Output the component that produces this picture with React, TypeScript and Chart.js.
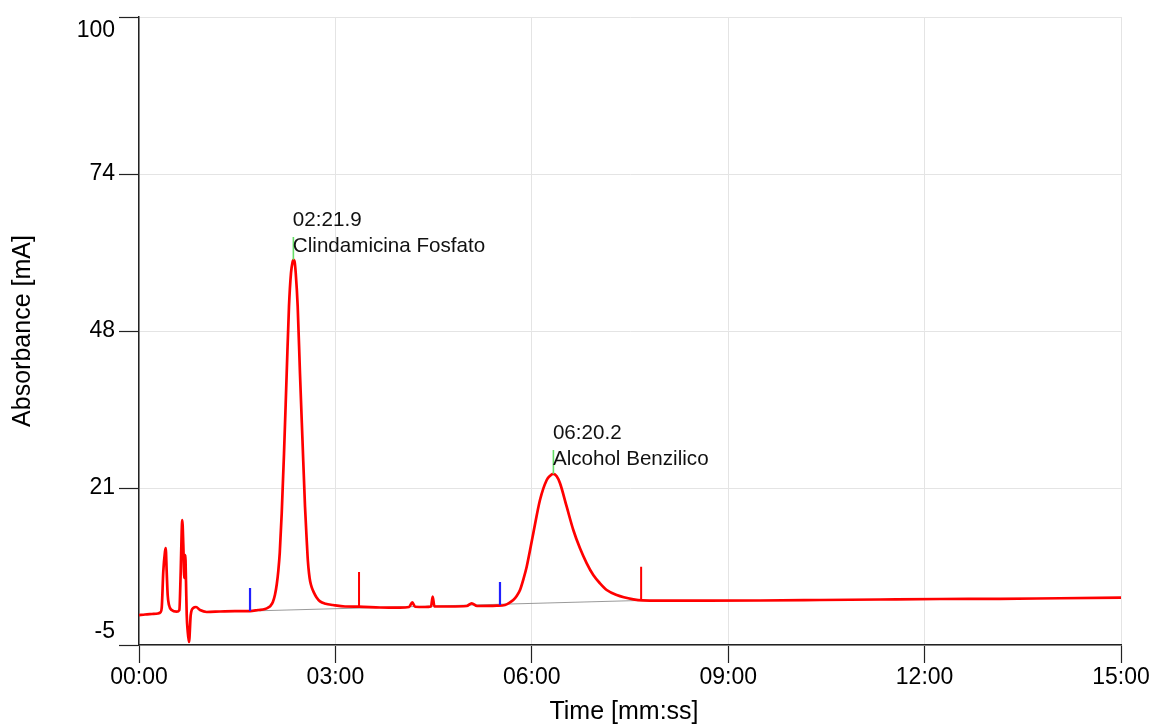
import React, { useEffect, useRef } from "react";
import { Chart, registerables } from "chart.js";

Chart.register(...registerables);

// Chromatogram trace: time in minutes, absorbance in mA
const timeMin = [
  0.0, 0.092, 0.199, 0.29, 0.33, 0.347, 0.371, 0.397, 0.408, 0.423, 0.438, 0.458, 0.499,
  0.576, 0.616, 0.637, 0.652, 0.661, 0.677, 0.692, 0.707, 0.718, 0.729, 0.745, 0.764, 0.79,
  0.829, 0.871, 0.932, 1.034, 1.237, 1.466, 1.696, 1.818, 1.925, 1.978, 2.012, 2.045, 2.077,
  2.105, 2.128, 2.15, 2.18, 2.215, 2.256, 2.291, 2.322, 2.345, 2.362, 2.378, 2.394, 2.424,
  2.459, 2.497, 2.536, 2.566, 2.58, 2.597, 2.615, 2.64, 2.67, 2.71, 2.765, 2.85, 2.963,
  3.147, 3.361, 3.681, 3.987, 4.125, 4.175, 4.216, 4.369, 4.46, 4.486, 4.513, 4.75, 5.006,
  5.082, 5.163, 5.464, 5.591, 5.65, 5.717, 5.769, 5.82, 5.871, 5.922, 6.023, 6.125, 6.228,
  6.28, 6.33, 6.38, 6.431, 6.533, 6.634, 6.736, 6.839, 6.939, 7.041, 7.144, 7.297, 7.551,
  7.688, 7.959, 8.57, 9.486, 10.402, 11.319, 12.235, 13.152, 14.068, 15.0,
];
const absorbance = [
  0.0, 0.1, 0.18, 0.27, 0.5, 1.19, 7.26, 10.6, 11.2, 7.26, 3.36, 1.69, 0.85,
  0.57, 0.85, 7.26, 13.9, 15.9, 11.7, 6.2, 10.05, 5.53, 0.02, -2.83, -4.5, 0.02,
  1.19, 1.35, 0.85, 0.52, 0.6, 0.68, 0.68, 0.85, 1.02, 1.3, 1.6, 2.2, 3.4,
  5.2, 7.4, 10.4, 17.0, 27.0, 40.4, 51.6, 57.2, 59.0, 59.4, 59.0, 57.2, 51.6,
  40.4, 29.3, 18.1, 11.7, 9.0, 7.0, 5.6, 4.6, 3.8, 3.0, 2.3, 1.9, 1.69,
  1.44, 1.4, 1.27, 1.24, 1.35, 2.14, 1.4, 1.35, 1.44, 3.08, 1.44, 1.44, 1.52,
  1.97, 1.52, 1.57, 1.69, 2.0, 2.52, 3.19, 4.2, 5.98, 8.09, 13.68, 19.24, 22.59,
  23.3, 23.6, 23.2, 22.04, 18.12, 14.23, 11.17, 8.66, 6.7, 5.32, 4.2, 3.36, 2.64,
  2.45, 2.41, 2.41, 2.44, 2.52, 2.61, 2.69, 2.72, 2.82, 2.91,
];

// Peak start markers (blue)
const startMarkerTimes = [1.696, 5.514];
const startMarkerLow = [0.68, 1.69];
const startMarkerHigh = [4.53, 5.53];

// Peak apex markers (green)
const apexTimes = [2.358, 6.33];
const apexLow = [59.4, 23.6];
const apexHigh = [63.2, 27.6];

// Peak end markers (red)
const endMarkerTimes = [3.361, 7.67];
const endMarkerLow = [1.35, 2.45];
const endMarkerHigh = [7.2, 8.1];

// Integration baseline
const baselineTimes = [1.696, 7.67];
const baselineValues = [0.68, 2.45];

// Peak annotations
const peakTimeLabels = ["02:21.9", "06:20.2"];
const peakNames = ["Clindamicina Fosfato", "Alcohol Benzilico"];

// Axis ticks and titles
const xTickValues = [0, 3, 6, 9, 12, 15];
const xTickLabels = ["00:00", "03:00", "06:00", "09:00", "12:00", "15:00"];
const yTickValues = [-5, 21.25, 47.5, 73.75, 100];
const yTickLabels = ["-5", "21", "48", "74", "100"];
const xTitle = "Time [mm:ss]";
const yTitle = "Absorbance [mA]";

const FONT = '"Liberation Sans", Arial, Helvetica, sans-serif';

function markerPairs(times: number[], low: number[], high: number[]) {
  const out: { x: number; y: number | null }[] = [];
  times.forEach((t, i) => {
    if (i > 0) out.push({ x: t, y: null });
    out.push({ x: t, y: low[i] });
    out.push({ x: t, y: high[i] });
  });
  return out;
}

export default function App() {
  const ref = useRef<HTMLCanvasElement>(null);

  useEffect(() => {
    const canvas = ref.current;
    if (!canvas) return;

    const trace = timeMin.map((t, i) => ({ x: t, y: absorbance[i] }));
    const baseline = baselineTimes.map((t, i) => ({ x: t, y: baselineValues[i] }));

    const labelPlugin = {
      id: "peakLabels",
      afterDatasetsDraw(chart: any) {
        const { ctx, scales, chartArea } = chart;
        const xs = scales.x;
        const ys = scales.y;
        ctx.save();
        ctx.font = `20.6px ${FONT}`;
        ctx.fillStyle = "#111";
        ctx.textAlign = "left";
        ctx.textBaseline = "middle";
        apexTimes.forEach((t, i) => {
          const px = xs.getPixelForValue(t) - 0.5;
          const py = ys.getPixelForValue(apexHigh[i]);
          ctx.fillText(peakTimeLabels[i], px, py - 16.5);
          ctx.fillText(peakNames[i], px, py + 9.5);
        });
        // x-axis title
        ctx.font = `25px ${FONT}`;
        ctx.fillStyle = "#000";
        ctx.textAlign = "center";
        ctx.fillText(xTitle, (chartArea.left + chartArea.right) / 2 - 6, 712);
        ctx.restore();
      },
    };

    const chart = new Chart(canvas, {
      type: "line",
      data: {
        datasets: [
          {
            label: "start",
            data: markerPairs(startMarkerTimes, startMarkerLow, startMarkerHigh),
            borderColor: "#2020ff",
            borderWidth: 2.2,
            pointRadius: 0,
            spanGaps: false,
            order: 0,
          },
          {
            label: "apex",
            data: markerPairs(apexTimes, apexLow, apexHigh),
            borderColor: "#66dd66",
            borderWidth: 1.6,
            pointRadius: 0,
            spanGaps: false,
            order: 0,
          },
          {
            label: "end",
            data: markerPairs(endMarkerTimes, endMarkerLow, endMarkerHigh),
            borderColor: "#ff0000",
            borderWidth: 2,
            pointRadius: 0,
            spanGaps: false,
            order: 0,
          },
          {
            label: "trace",
            data: trace,
            borderColor: "#ff0000",
            borderWidth: 2.7,
            pointRadius: 0,
            cubicInterpolationMode: "monotone",
            order: 1,
          },
          {
            label: "baseline",
            data: baseline,
            borderColor: "#808080",
            borderWidth: 0.8,
            pointRadius: 0,
            order: 2,
          },
        ],
      },
      options: {
        animation: false,
        responsive: false,
        events: [],
        layout: { padding: { left: 8, top: 17, right: 33, bottom: 0 } },
        plugins: {
          legend: { display: false },
          tooltip: { enabled: false },
        },
        scales: {
          x: {
            type: "linear",
            min: 0,
            max: 15,
            afterBuildTicks: (scale: any) => {
              scale.ticks = xTickValues.map((v) => ({ value: v }));
            },
            afterFit: (scale: any) => {
              scale.height = 81;
            },
            grid: {
              color: "#e4e4e4",
              lineWidth: 1,
              drawTicks: true,
              tickLength: 18,
              tickColor: "#222",
              tickWidth: 1.2,
            },
            border: { display: true, color: "#222", width: 1.5 },
            ticks: {
              autoSkip: false,
              maxRotation: 0,
              padding: 1,
              color: "#000",
              font: { family: FONT, size: 23 },
              callback: (v: any) => {
                const i = xTickValues.indexOf(Number(v));
                return i >= 0 ? xTickLabels[i] : "";
              },
            },
            title: { display: false },
          },
          y: {
            type: "linear",
            min: -5,
            max: 100,
            afterBuildTicks: (scale: any) => {
              scale.ticks = yTickValues.map((v) => ({ value: v }));
            },
            afterFit: (scale: any) => {
              scale.width = 131;
              scale.paddingTop = 0;
              scale.paddingBottom = 0;
            },
            grid: {
              color: "#e4e4e4",
              lineWidth: 1,
              drawTicks: true,
              tickLength: 20,
              tickColor: "#222",
              tickWidth: 1.2,
            },
            border: { display: true, color: "#222", width: 1.5 },
            ticks: {
              autoSkip: false,
              padding: 4,
              color: "#000",
              font: { family: FONT, size: 23 },
              callback: (v: any) => {
                const i = yTickValues.indexOf(Number(v));
                const label = i >= 0 ? yTickLabels[i] : "";
                if (i === 0) return [label, ""];
                if (i === yTickValues.length - 1) return ["", label];
                return label;
              },
            },
            title: {
              display: true,
              text: yTitle,
              color: "#000",
              font: { family: FONT, size: 25 },
              padding: { top: 0, bottom: 0 },
            },
          },
        },
      },
      plugins: [labelPlugin],
    } as any);

    return () => chart.destroy();
  }, []);

  return (
    <canvas
      ref={ref}
      width={1154}
      height={726}
      style={{ position: "absolute", left: 0, top: 0, display: "block" }}
    />
  );
}
